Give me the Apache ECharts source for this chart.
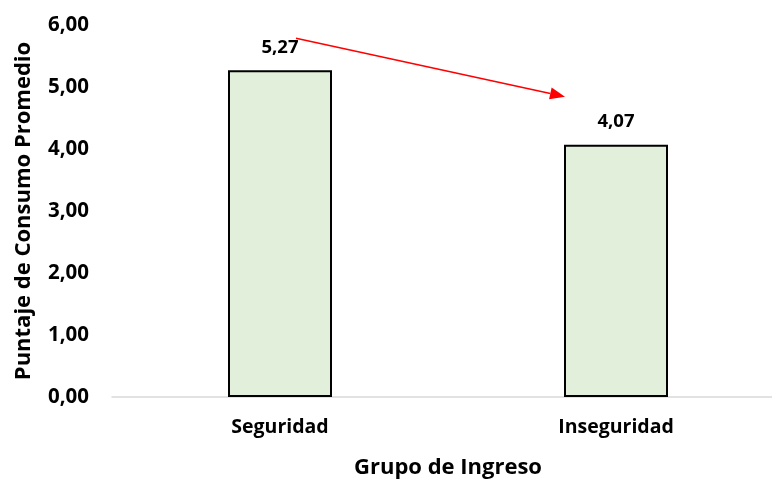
<!DOCTYPE html>
<html>
<head>
<meta charset="utf-8">
<script src="https://cdn.jsdelivr.net/npm/echarts@6/dist/echarts.min.js"></script>
<style>
  html, body { margin: 0; padding: 0; background: #fff; }
  #chart { width: 772px; height: 480px; }
</style>
</head>
<body>
<div id="chart"></div>
<script>
// Average consumption score by income group
const categories = ['Seguridad', 'Inseguridad'];
const scores = [5.27, 4.07];
const yTicks = [0, 1, 2, 3, 4, 5, 6];

const FONT = '"Open Sans", "Noto Sans", sans-serif';
const fmt = v => v.toFixed(2).replace('.', ',');

const chart = echarts.init(document.getElementById('chart'), null, { renderer: 'canvas' });

chart.setOption({
  animation: false,
  backgroundColor: '#ffffff',
  grid: { left: 112, width: 672, top: 25, bottom: 83, containLabel: false, outerBoundsMode: 'none' },
  xAxis: {
    type: 'category',
    data: categories,
    name: 'Grupo de Ingreso',
    nameLocation: 'middle',
    nameGap: 60,
    nameTextStyle: { fontFamily: FONT, fontWeight: 'bold', fontSize: 22, color: '#000' },
    axisLine: { lineStyle: { color: '#d9d9d9', width: 1.5 } },
    axisTick: { show: false },
    axisLabel: { fontFamily: FONT, fontWeight: 'bold', fontSize: 19.5, color: '#000', margin: 20 }
  },
  yAxis: {
    type: 'value',
    min: yTicks[0],
    max: yTicks[yTicks.length - 1],
    interval: 1,
    name: 'Puntaje de Consumo Promedio',
    nameLocation: 'middle',
    nameGap: 77,
    nameTextStyle: { fontFamily: FONT, fontWeight: 'bold', fontSize: 22, color: '#000' },
    axisLine: { show: false },
    axisTick: { show: false },
    splitLine: { show: false },
    axisLabel: { fontFamily: FONT, fontWeight: 'bold', fontSize: 20.5, color: '#000', margin: 23, formatter: fmt }
  },
  series: [{
    type: 'bar',
    data: scores,
    barWidth: 104,
    itemStyle: { color: '#e2efda', borderColor: '#000', borderWidth: 2 },
    label: {
      show: true,
      position: 'top',
      distance: 13,
      fontFamily: FONT, fontWeight: 'bold', fontSize: 18.5, color: '#000',
      formatter: p => fmt(p.value)
    }
  }]
});

// Red trend arrow from the first label toward the second bar
function drawArrow() {
  const a = chart.convertToPixel({ seriesIndex: 0 }, [0, scores[0]]);
  const b = chart.convertToPixel({ seriesIndex: 0 }, [1, scores[1]]);
  const x1 = a[0] + 16, y1 = a[1] - 32;
  const x2 = b[0] - 51, y2 = b[1] - 48;
  const ang = Math.atan2(y2 - y1, x2 - x1);
  const len = 15, half = 6;
  const bx = x2 - len * Math.cos(ang), by = y2 - len * Math.sin(ang);
  const nx = -Math.sin(ang), ny = Math.cos(ang);
  chart.setOption({
    graphic: [
      { type: 'line', shape: { x1: x1, y1: y1, x2: bx, y2: by }, style: { stroke: '#ff0000', lineWidth: 1.5 } },
      { type: 'polygon', shape: { points: [[x2, y2], [bx + nx * half, by + ny * half], [bx - nx * half, by - ny * half]] }, style: { fill: '#ff0000' } }
    ]
  });
}
drawArrow();
</script>
</body>
</html>
